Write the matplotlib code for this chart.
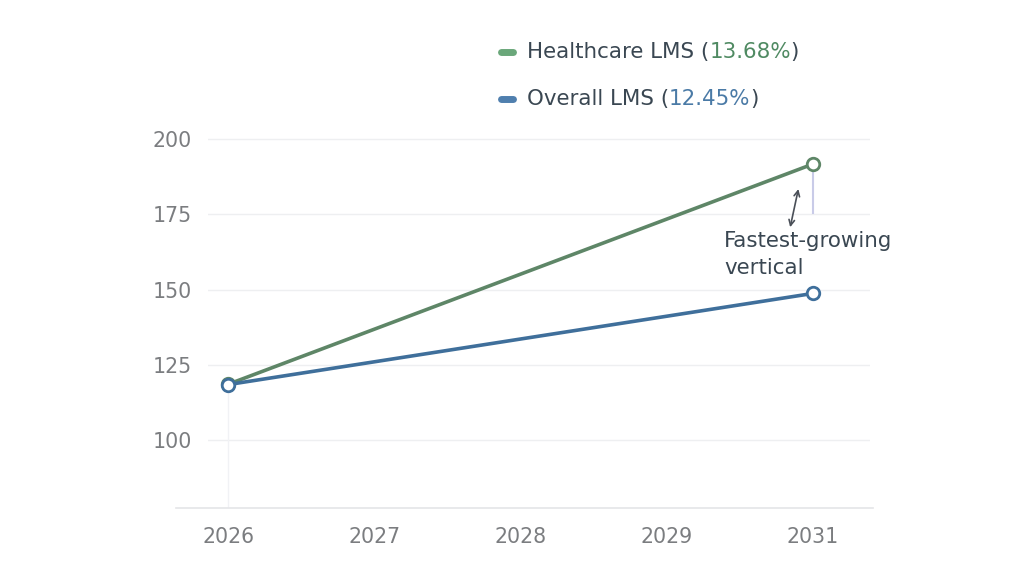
import matplotlib
matplotlib.use("Agg")
import matplotlib.pyplot as plt
from matplotlib.lines import Line2D
import numpy as np

plt.rcParams['font.family'] = ['DejaVu Sans']

# data
years = [2026, 2031]
healthcare = [118.5, 191.7]
overall = [118.4, 148.7]
yticks = [100, 125, 150, 175, 200]
# five evenly spaced ticks between the end years, labels as shown in the chart
xtick_labels = ["2026", "2027", "2028", "2029", "2031"]
series_names = ["Healthcare LMS", "Overall LMS"]
cagr_labels = ["13.68%", "12.45%"]

GREEN = "#5e8667"
BLUE = "#3f6f9b"
GREEN_KEY = "#6aa77a"
BLUE_KEY = "#4f7fae"
TEXT = "#3a4752"
TICK = "#7b7d80"
FS_TICK = 14.8
FS_TEXT = 15.4

fig = plt.figure(figsize=(10.24, 5.86), dpi=100)
fig.patch.set_facecolor("white")
ax = fig.add_axes([208 / 1024, 1 - 508 / 586, 662 / 1024, 384 / 586])

ax.set_xlim(2026 - 20 / 117, 2031 + 57 / 117)
ax.set_ylim(77.4, 205.0)

for y in yticks:
    ax.axhline(y, color="#eeeff1", lw=1.0, zorder=0)

# faint drop line at start and callout guide at end
ax.plot([years[0], years[0]], [77.4, overall[0]], color="#f1f2f5", lw=1.0, zorder=1)
ax.plot([years[1], years[1]], [175.4, healthcare[1]], color="#c9cbe8", lw=1.5, zorder=1)

ax.plot(years, healthcare, color=GREEN, lw=2.6, zorder=3,
        marker="o", ms=9, mfc="white", mec=GREEN, mew=2)
ax.plot(years, overall, color=BLUE, lw=2.6, zorder=4,
        marker="o", ms=9, mfc="white", mec=BLUE, mew=2)

for s in ax.spines.values():
    s.set_visible(False)
ax.add_line(Line2D([-0.048, 1.0045], [0, 0], transform=ax.transAxes,
                   color="#e4e5e8", lw=1.2, clip_on=False))

ax.set_xticks(np.linspace(years[0], years[-1], len(xtick_labels)))
ax.set_xticklabels(xtick_labels)
ax.set_yticks(yticks)
ax.tick_params(axis="both", length=0, colors=TICK, labelsize=FS_TICK)
ax.tick_params(axis="x", pad=13.5)
ax.tick_params(axis="y", pad=11.5)

# annotation
ax.annotate("", xy=(2030.88, 184.3), xytext=(2030.80, 169.8),
            arrowprops=dict(arrowstyle="<->", color="#4a4f58", lw=1.2,
                            mutation_scale=10))
ax.text(2030.24, 169.4, "Fastest-growing\nvertical", fontsize=FS_TEXT, color=TEXT,
        va="top", ha="left", linespacing=1.4)

# custom legend with coloured percentages
key_y = [1 - 52 / 586, 1 - 99 / 586]
key_col = [GREEN_KEY, BLUE_KEY]
num_col = ["#4f8a62", "#4a7aa6"]
for name, pct, ky, kc, nc in zip(series_names, cagr_labels, key_y, key_col, num_col):
    fig.add_artist(Line2D([501 / 1024, 513 / 1024], [ky, ky], color=kc, lw=5,
                          solid_capstyle="round"))
    t1 = fig.text(527 / 1024, ky, name + " (", fontsize=FS_TEXT, color=TEXT,
                  va="center", ha="left")
    a2 = plt.annotate(pct, xy=(1, 0), xycoords=t1, va="bottom", ha="left",
                      fontsize=FS_TEXT, color=nc)
    plt.annotate(")", xy=(1, 0), xycoords=a2, va="bottom", ha="left",
                 fontsize=FS_TEXT, color=TEXT)

fig.savefig("out.png", dpi=100, facecolor="white")
